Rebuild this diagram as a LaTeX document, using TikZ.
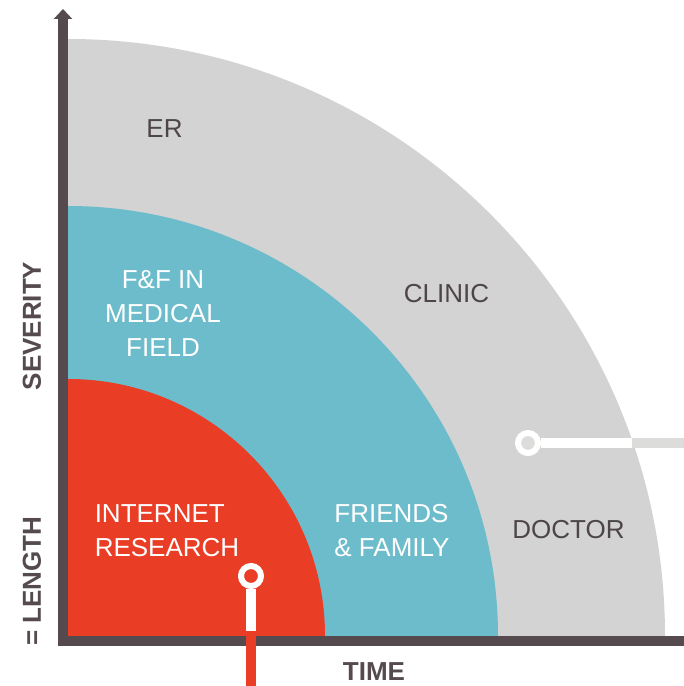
\documentclass[tikz,border=0pt]{standalone}
\usepackage{fontspec}
\setmainfont{Liberation Sans}
\usetikzlibrary{arrows.meta}

\definecolor{zonegray}{HTML}{D3D3D3}
\definecolor{zoneblue}{HTML}{6DBCCB}
\definecolor{zonered}{HTML}{E93D26}
\definecolor{axisgray}{HTML}{554B4F}
\definecolor{labelgray}{HTML}{4D4548}
\definecolor{bargray}{HTML}{DCDCDB}

\begin{document}
\begin{tikzpicture}[x=1pt, y=1pt,
  axis/.style={axisgray, line width=10pt},
  inlabel/.style={text=white, font=\fontsize{26}{34}\selectfont},
  outlabel/.style={text=labelgray, font=\fontsize{26}{34}\selectfont},
  axislabel/.style={text=axisgray, font=\fontsize{26}{34}\selectfont\bfseries},
  pinring/.style={circle, draw=white, line width=6pt, minimum size=20pt, inner sep=0pt}]
  \useasboundingbox (0,0) rectangle (684,686);
  \coordinate (origin) at (68,50);

  \foreach \r/\c in {597/zonegray, 430/zoneblue, 257/zonered}
  \fill [\c] (origin) -- ++(\r,0) arc [start angle=0, end angle=90, radius=\r] -- cycle;

  \draw [axis, -{Triangle[width=18pt, length=10pt]}] (63,40) -- (63,677);
  \draw [axis] (58,45) -- (684,45);

  % pins
  \coordinate (netfoot) at (251,55);
  \coordinate (netend) at (251,0);
  \node [pinring, fill=zonered] (netpin) at (251,110) {};
  \draw [white, line width=10pt] (netpin.south) -- (netfoot);
  \draw [zonered, line width=10pt] (netfoot) -- (netend);

  \coordinate (docedge) at (632,243);
  \coordinate (docend) at (684,243);
  \node [pinring, fill=bargray] (docpin) at (528,243) {};
  \draw [white, line width=10pt] (docpin.east) -- (docedge);
  \draw [bargray, line width=10pt] (docedge) -- (docend);

  \node [inlabel, align=left] (internet) at (167,155) {INTERNET\\RESEARCH};
  \node [inlabel, align=left] (friends) at (392,155) {FRIENDS\\\& FAMILY};
  \node [inlabel, align=center] (relatives) at (163,372) {F\&F IN\\MEDICAL\\FIELD};
  \node [outlabel] (er) at (164.5,557) {ER};
  \node [outlabel] (clinic) at (446.5,392) {CLINIC};
  \node [outlabel] (doctor) at (568.5,156) {DOCTOR};

  \node [axislabel] (time) at (374,14) {TIME};
  \node [axislabel, rotate=90] (severity) at (32,360) {SEVERITY};
  \node [axislabel, rotate=90] (length) at (32,105) {= LENGTH};
\end{tikzpicture}
\end{document}
